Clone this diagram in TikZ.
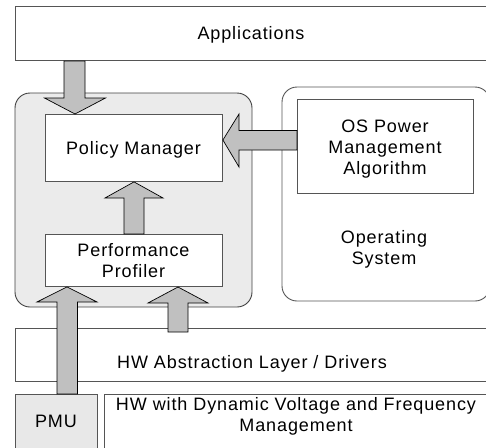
\documentclass[tikz,border=0pt]{standalone}
\usepackage{fontspec}
\setmainfont{Liberation Sans}[LetterSpace=5]
\usetikzlibrary{calc}
\definecolor{boxline}{HTML}{555555}
\definecolor{grpline}{HTML}{404040}
\definecolor{grpfill}{HTML}{EBEBEB}
\definecolor{pmufill}{HTML}{E8E8E8}
\definecolor{arrfill}{HTML}{C0C0C0}
\begin{document}
\begin{tikzpicture}[x=1pt,y=-1pt,
  lbl/.style={font=\fontsize{18}{21}\selectfont, text=black, inner sep=0pt, align=center},
  plainbox/.style={draw=boxline, line width=0.9pt, fill=white},
  blockarrow/.style={draw=black, line width=0.7pt, fill=arrfill, line join=miter}]
\useasboundingbox (0,0) rectangle (486,447);
% group and OS boxes
\draw[draw=grpline, fill=grpfill, line width=0.9pt, rounded corners=15pt] (15,93) rectangle (252,307);
\draw[draw=boxline, fill=white, line width=0.9pt, rounded corners=15pt] (282,87) rectangle (490,301);
% layer boxes
\node[plainbox, minimum width=480pt, minimum height=54pt, anchor=north west] (apps) at (15,6) {};
\node[plainbox, minimum width=480pt, minimum height=53pt, anchor=north west] (hal) at (15,328) {};
\node[plainbox, minimum width=395pt, minimum height=70pt, anchor=north west] (hw) at (104,394) {};
\node[draw=boxline, line width=0.9pt, fill=pmufill, minimum width=82pt, minimum height=70pt, anchor=north west] (pmu) at (15,394) {};
% inner boxes
\node[plainbox, minimum width=177pt, minimum height=67pt, anchor=north west] (pm) at (45,114) {};
\node[plainbox, minimum width=177pt, minimum height=52pt, anchor=north west] (pp) at (45,234) {};
\node[plainbox, minimum width=176pt, minimum height=94pt, anchor=north west] (ospm) at (297,99) {};
% labels
\node[lbl, anchor=base] (tapps) at (251,39) {Applications};
\node[lbl, anchor=base] (tpm) at (133.5,154) {Policy Manager};
\node[lbl] (tospm) at (385,149.4) {OS Power\\Management\\Algorithm};
\node[lbl] (tos) at (384,248.9) {Operating\\System};
\node[lbl] (tpp) at (133.5,261) {Performance\\Profiler};
\node[lbl, anchor=base] (thal) at (252,368) {HW Abstraction Layer / Drivers};
\node[lbl] (thw) at (296,415.9) {HW with Dynamic Voltage and Frequency\\Management};
\node[lbl, anchor=base] (tpmu) at (56,427) {PMU};
% block arrows
% Applications -> Policy Manager
\draw[blockarrow] (pm.north -| 75,0) coordinate (a1tip)
  -- (105.5,98) -- (85,98) -- (apps.south -| 85,0) -- (apps.south -| 64,0) -- (64,98) -- (44.5,98) -- cycle;
% OS PM -> Policy Manager
\draw[blockarrow] (pm.east |- 0,140) coordinate (a2tip)
  -- (239,114) -- (239,130.5) -- (ospm.west |- 0,130.5) -- (ospm.west |- 0,150) -- (239,150) -- (239,167) -- cycle;
% Profiler -> Policy Manager
\draw[blockarrow] (pm.south -| 134,0) coordinate (a3tip)
  -- (163,198) -- (144,198) -- (pp.north -| 144,0) -- (pp.north -| 124,0) -- (124,198) -- (105,198) -- cycle;
% PMU -> Profiler
\draw[blockarrow] (pp.south -| 67,0) coordinate (a4tip)
  -- (97,302) -- (77.5,302) -- (pmu.north -| 77.5,0) -- (pmu.north -| 57,0) -- (57,302) -- (37,302) -- cycle;
% HAL -> Profiler area
\draw[blockarrow] (178,287) coordinate (a5tip)
  -- (208,303) -- (188,303) -- (188,332) -- (168,332) -- (168,303) -- (148,303) -- cycle;
\end{tikzpicture}
\end{document}
